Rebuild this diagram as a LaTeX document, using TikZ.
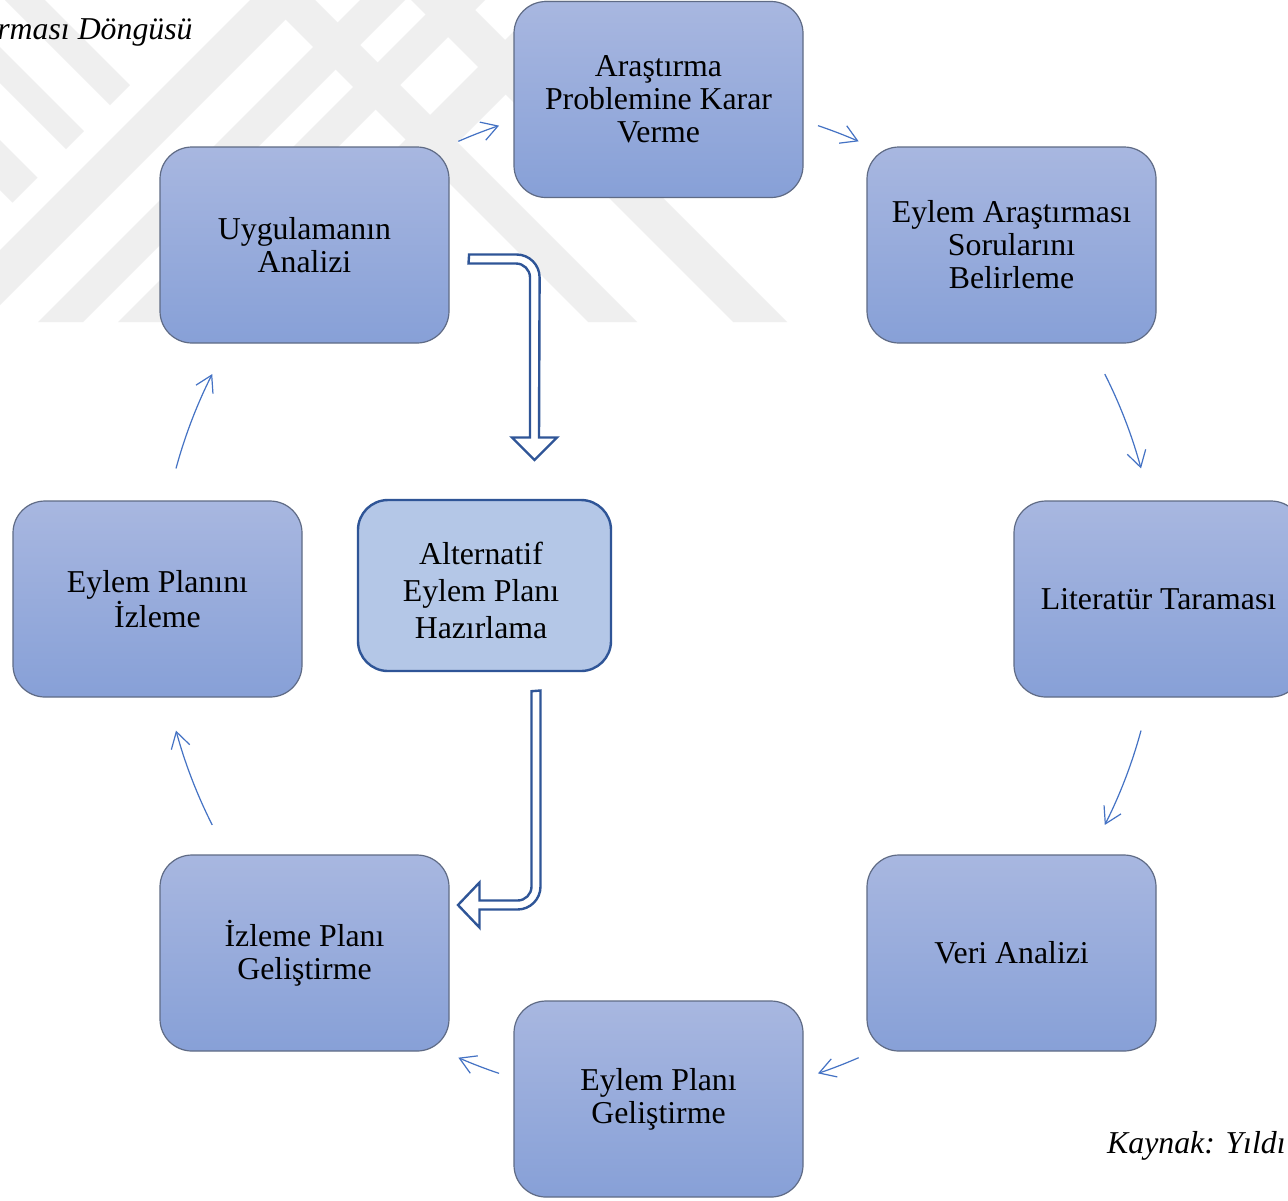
\documentclass[tikz,border=0pt]{standalone}
\usepackage{fontspec}
\setmainfont{Liberation Serif}
\usetikzlibrary{arrows.meta}
\definecolor{boxtop}{HTML}{A8B7E0}
\definecolor{boxbot}{HTML}{87A0D7}
\definecolor{boxline}{HTML}{5F6B85}
\definecolor{altfill}{HTML}{B4C7E7}
\definecolor{altline}{HTML}{2F5597}
\definecolor{cyc}{HTML}{4472C4}
\definecolor{wm}{HTML}{EFEFEF}
\tikzset{
  stagebox/.style={rounded corners=16pt, top color=boxtop, bottom color=boxbot,
    draw=boxline, line width=0.6pt, minimum width=144.5pt, minimum height=98pt,
    inner sep=0pt, align=center, font=\fontsize{15.9}{16.5}\selectfont},
  altbox/.style={rounded corners=15pt, fill=altfill, draw=altline, line width=1.2pt,
    minimum width=126.5pt, minimum height=85.5pt, inner sep=0pt},
  alttext/.style={inner sep=0pt, align=center, font=\fontsize{15.9}{18.5}\selectfont},
  cycarrow/.style={draw=cyc, line width=0.6pt, -{Straight Barb[length=8pt,width=9.5pt]}},
  blockarrow/.style={draw=altline, line width=1.2pt, fill=white, line join=miter},
  wmband/.style={fill=wm},
  caption/.style={font=\fontsize{15.9}{16.5}\selectfont\itshape, inner sep=0pt}
}
\begin{document}
\begin{tikzpicture}[x=0.5pt,y=-0.5pt]
\useasboundingbox (0,0) rectangle (1288,1200);
\clip (0,0) rectangle (1288,1200);
\fill[white] (0,0) rectangle (1288,1200);
% watermark
\begin{scope}
\clip (-5,0) rectangle (800,322);
\fill[wmband] (250,0) -- (305,0) -- (-17,322) -- (-72,322) -- cycle;
\fill[wmband] (360,0) -- (405,0) -- (83,322) -- (38,322) -- cycle;
\fill[wmband] (440,0) -- (485,0) -- (163,322) -- (118,322) -- cycle;
\fill[wmband] (545,0) -- (600,0) -- (278,322) -- (223,322) -- cycle;
\begin{scope}
\clip (-5,0) -- (215,0) -- (-107,322) -- (-5,322) -- cycle;
\fill[wmband] (5,0) -- (45,0) -- (367,322) -- (327,322) -- cycle;
\fill[wmband] (-83,0) -- (-47,0) -- (275,322) -- (239,322) -- cycle;
\fill[wmband] (-190,0) -- (-140,0) -- (182,322) -- (132,322) -- cycle;
\end{scope}
\fill[wmband] (266,0) -- (315,0) -- (637,322) -- (588,322) -- cycle;
\fill[wmband] (411,0) -- (465,0) -- (787,322) -- (733,322) -- cycle;
\end{scope}
% captions
\node[caption, anchor=base east] (title) at (193,39) {rması Döngüsü};
\node[caption, anchor=base east] (source) at (1286,1153) {Kaynak: Yıldı};
% stages
\node[stagebox] (s1) at (658.5,99.5) {Araştırma\\Problemine Karar\\Verme};
\node[stagebox] (s2) at (1011.5,245) {Eylem Araştırması\\Sorularını\\Belirleme};
\node[stagebox] (s3) at (1158.5,599) {Literatür Taraması};
\node[stagebox] (s4) at (1011.5,953) {Veri Analizi};
\node[stagebox] (s5) at (658.5,1099) {Eylem Planı\\Geliştirme};
\node[stagebox] (s6) at (304.5,953) {İzleme Planı\\Geliştirme};
\node[stagebox] (s7) at (157.5,599) {Eylem Planını\\İzleme};
\node[stagebox] (s8) at (304.5,245) {Uygulamanın\\Analizi};
\node[altbox] (alt) at (484.5,585.5) {};
\node[alttext] (alttxt) at ([shift={(-3.5,5)}]alt.center) {Alternatif\\Eylem Planı\\Hazırlama};
% cycle connectors (arcs of the cycle circle)
\coordinate (cyc) at (658.5,599.5);
\draw[cycarrow] ([shift={(-113.6:500)}]cyc) arc[start angle=-113.6, end angle=-108.6, radius=500];
\draw[cycarrow] ([shift={(-71.4:500)}]cyc) arc[start angle=-71.4, end angle=-66.4, radius=500];
\draw[cycarrow] ([shift={(-26.8:500)}]cyc) arc[start angle=-26.8, end angle=-15.2, radius=500];
\draw[cycarrow] ([shift={(15.2:500)}]cyc) arc[start angle=15.2, end angle=26.8, radius=500];
\draw[cycarrow] ([shift={(66.4:500)}]cyc) arc[start angle=66.4, end angle=71.4, radius=500];
\draw[cycarrow] ([shift={(108.6:500)}]cyc) arc[start angle=108.6, end angle=113.6, radius=500];
\draw[cycarrow] ([shift={(153.2:500)}]cyc) arc[start angle=153.2, end angle=164.8, radius=500];
\draw[cycarrow] ([shift={(195.2:500)}]cyc) arc[start angle=195.2, end angle=206.8, radius=500];
% block arrows
\coordinate (ba1) at ([shift={(19.5,9.5)}]s8.east);
\draw[blockarrow] (ba1) -- ++(47.5,0)
  arc[start angle=-90, end angle=0, radius=23] -- (539,437.5) -- (557,437.5)
  -- (534.5,460) -- (512,437.5) -- (530,437.5) -- (530,277.5)
  arc[start angle=0, end angle=-90, radius=14] -- (468.5,263.5) -- cycle;
\coordinate (ba2) at ([shift={(47,19)}]alt.south);
\draw[blockarrow] (ba2) -- (540.5,690.5) -- (540.5,886.5)
  arc[start angle=0, end angle=90, radius=23] -- (479.5,909.5) -- (479.5,927.5)
  -- (458,905) -- (479.5,882.5) -- (479.5,900.5) -- (517.5,900.5)
  arc[start angle=90, end angle=0, radius=14] -- cycle;
\end{tikzpicture}
\end{document}
